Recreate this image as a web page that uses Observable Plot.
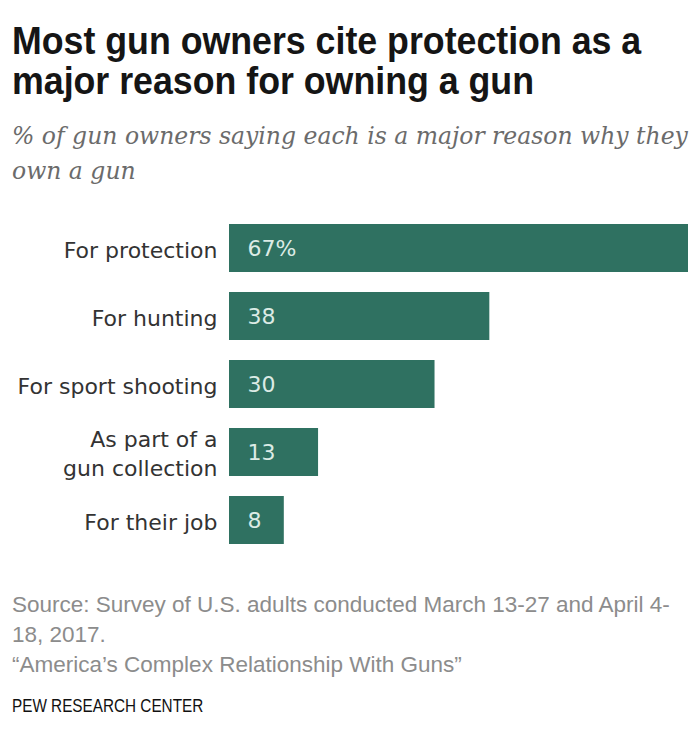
<!DOCTYPE html>
<html>
<head>
<meta charset="utf-8">
<script src="https://cdn.jsdelivr.net/npm/d3@7"></script>
<script src="https://cdn.jsdelivr.net/npm/@observablehq/plot@0.6"></script>
<style>
  html, body { margin: 0; padding: 0; background: #fff; }
  #wrap { position: relative; width: 697px; height: 745px; overflow: hidden; }
  .abs { position: absolute; left: 12px; white-space: nowrap; transform-origin: 0 50%; }
  #title { top: 21px; font-family: "Liberation Sans", sans-serif; font-weight: bold; font-size: 38px; line-height: 40px; color: #151515; transform: scaleX(0.94); }
  #subtitle { top: 119px; font-family: "DejaVu Serif", serif; font-style: italic; font-size: 23.5px; line-height: 35px; color: #6b6b6b; }
  #chart { position: absolute; top: 200px; left: 0; }
  #source { top: 590px; font-family: "Liberation Sans", sans-serif; font-size: 22.5px; line-height: 30px; color: #8c8c8c; }
  #pew { top: 694px; font-family: "Liberation Sans", sans-serif; font-size: 18px; line-height: 24px; color: #111; transform: scaleX(0.85); }
</style>
</head>
<body>
<div id="wrap">
  <div id="title" class="abs">Most gun owners cite protection as a<br>major reason for owning a gun</div>
  <div id="subtitle" class="abs">% of gun owners saying each is a major reason why they<br>own a gun</div>
  <div id="chart"></div>
  <div id="source" class="abs">Source: Survey of U.S. adults conducted March 13-27 and April 4-<br>18, 2017.<br>“America’s Complex Relationship With Guns”</div>
  <div id="pew" class="abs">PEW RESEARCH CENTER</div>
</div>
<script>
const reasons = ["For protection", "For hunting", "For sport shooting", "As part of a\ngun collection", "For their job"];
const values = [67, 38, 30, 13, 8];
const valueLabels = ["67%", "38", "30", "13", "8"];

const data = reasons.map((r, i) => ({reason: r, value: values[i], label: valueLabels[i]}));

const barColor = "#2f7161";

const chart = Plot.plot({
  width: 697,
  height: 368,
  marginLeft: 229,
  marginRight: 9,
  marginTop: 4,
  marginBottom: 4,
  x: {domain: [0, 67], axis: null},
  y: {domain: reasons, padding: 20 / 68, axis: null},
  style: {background: "transparent"},
  marks: [
    Plot.barX(data, {x: "value", y: "reason", fill: barColor}),
    Plot.text(data, {
      x: 0, y: "reason", text: "reason", textAnchor: "end", dx: -12,
      fontSize: 22, lineHeight: 1.3, fill: "#333",
      fontFamily: "DejaVu Sans, sans-serif"
    }),
    Plot.text(data, {
      x: 0, y: "reason", text: "label", textAnchor: "start", dx: 18,
      fontSize: 22, fill: "#dcebe5",
      fontFamily: "DejaVu Sans, sans-serif"
    })
  ]
});
document.getElementById("chart").appendChild(chart);
</script>
</body>
</html>
